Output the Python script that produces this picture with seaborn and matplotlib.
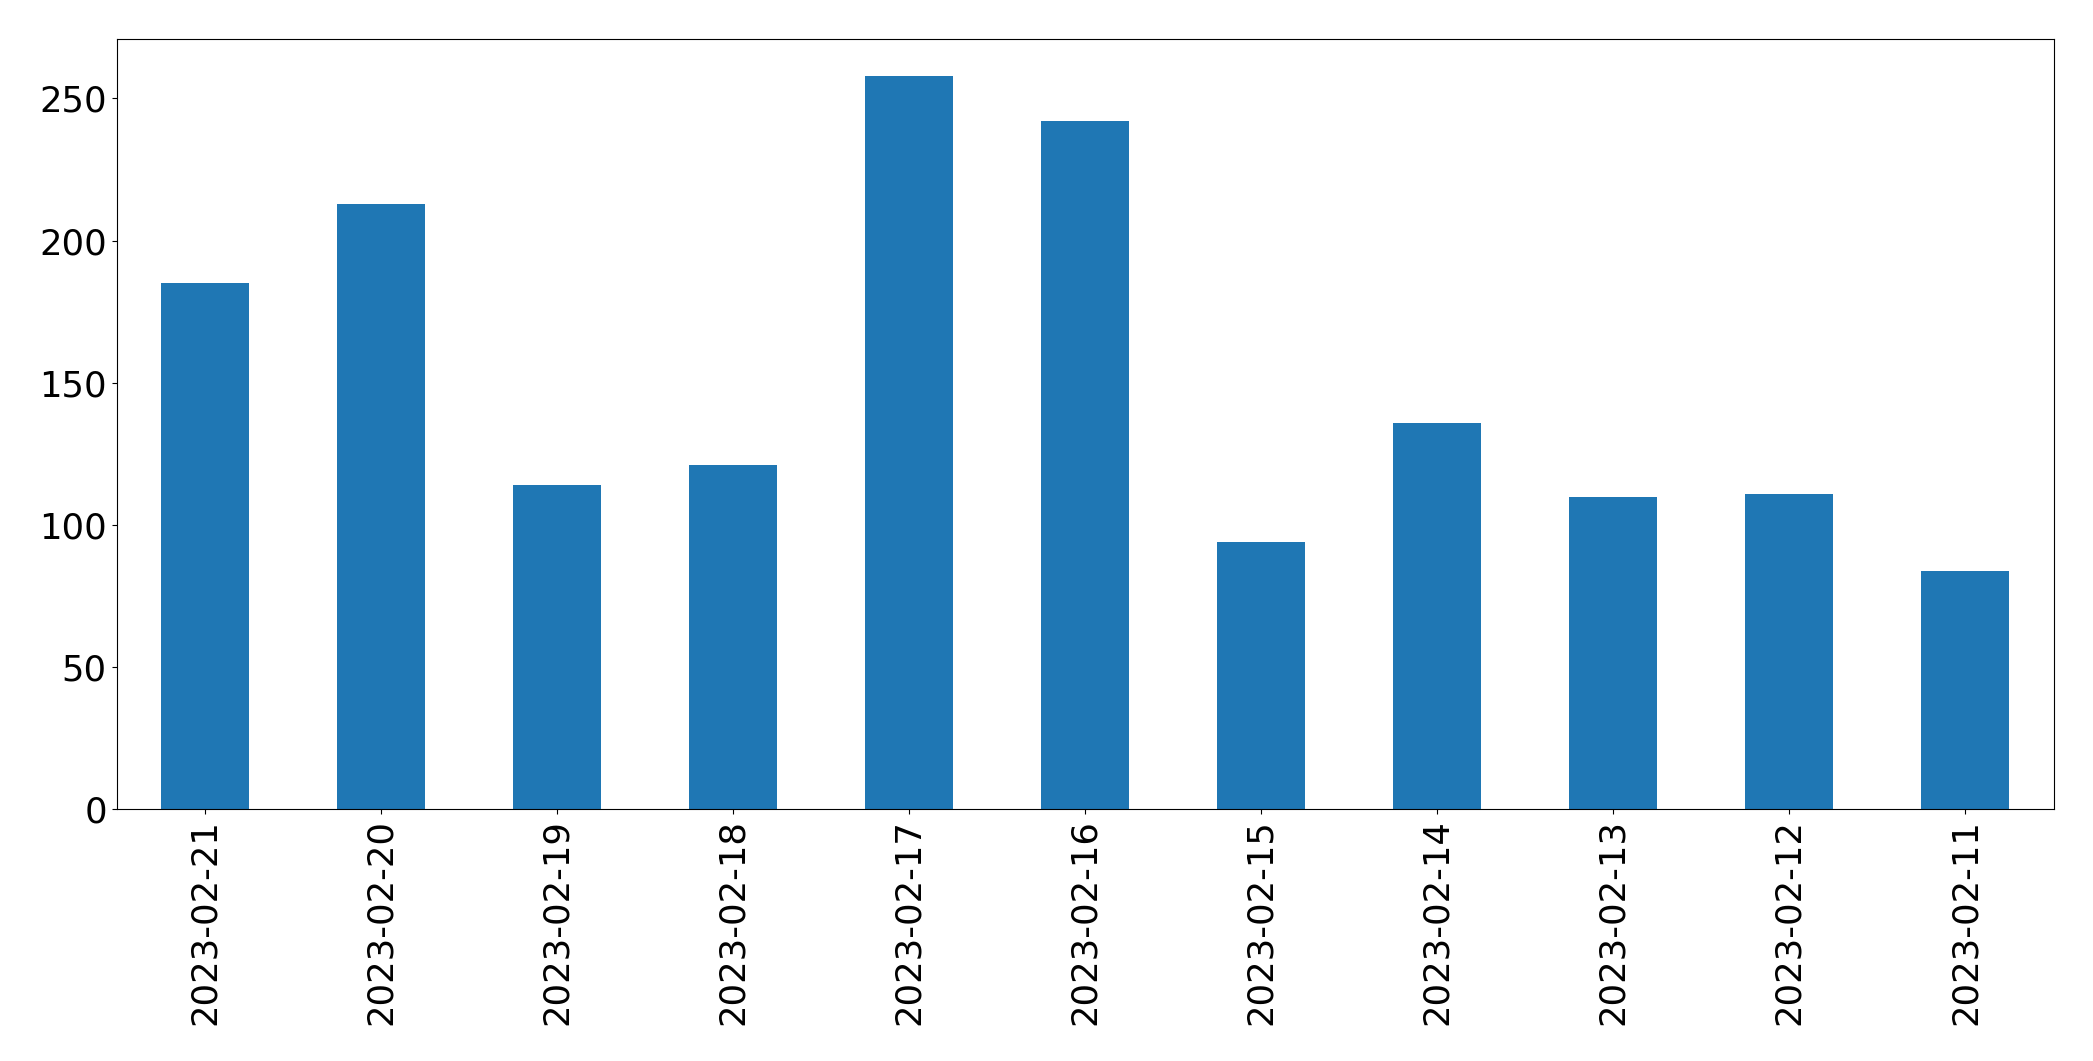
import matplotlib
matplotlib.use("Agg")
import matplotlib.pyplot as plt
import seaborn as sns
import pandas as pd

dates = ["2023-02-21", "2023-02-20", "2023-02-19", "2023-02-18", "2023-02-17",
         "2023-02-16", "2023-02-15", "2023-02-14", "2023-02-13", "2023-02-12",
         "2023-02-11"]
counts = [185, 213, 114, 121, 258, 242, 94, 136, 110, 111, 84]

df = pd.DataFrame({"date": dates, "count": counts})

fig = plt.figure(figsize=(20.93, 10.61), dpi=100)
left, right, top, bottom = 116.5, 2053.5, 39.0, 809.4
ax = fig.add_axes([left / 2093, 1 - bottom / 1061,
                   (right - left) / 2093, (bottom - top) / 1061])

sns.barplot(data=df, x="date", y="count", order=dates, color="#1f77b4",
            saturation=1, width=0.5, ax=ax)

ax.set_xlim(-0.5, len(dates) - 0.5)
ax.set_ylim(0, max(counts) * 1.05)
ax.set_xlabel("")
ax.set_ylabel("")
ax.tick_params(axis="x", labelrotation=90, labelsize=25.5)
ax.tick_params(axis="y", labelsize=25.5)
for s in ax.spines.values():
    s.set_linewidth(0.8)

fig.savefig("out.png", dpi=100)
